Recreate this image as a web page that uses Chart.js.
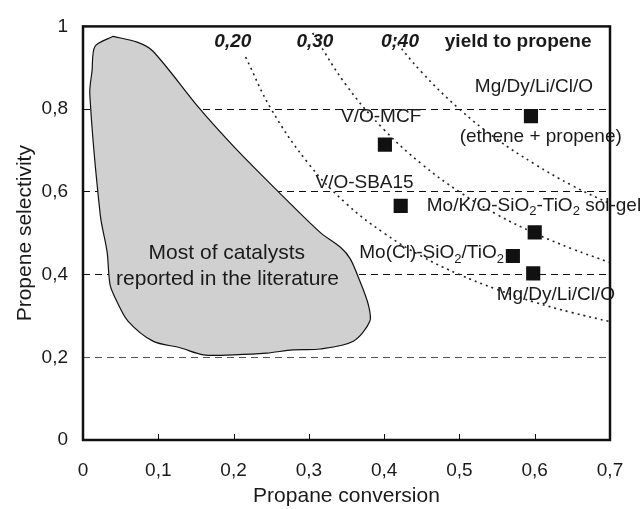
<!DOCTYPE html>
<html>
<head>
<meta charset="utf-8">
<script src="https://cdn.jsdelivr.net/npm/chart.js@4.4.0/dist/chart.umd.min.js"></script>
<style>
  html, body { margin: 0; padding: 0; background: #fff; }
</style>
</head>
<body>
<canvas id="chart" width="640" height="509"></canvas>
<script>
// catalysts (squares)
const catalystNames = ['Mg/Dy/Li/Cl/O (ethene + propene)', 'V/O-MCF', 'V/O-SBA15',
  'Mo/K/O-SiO2-TiO2 sol-gel', 'Mo(Cl)-SiO2/TiO2', 'Mg/Dy/Li/Cl/O'];
const catalystX = [0.595, 0.401, 0.422, 0.600, 0.571, 0.598];
const catalystY = [0.783, 0.714, 0.566, 0.502, 0.445, 0.403];

// outline of the grey region "most of catalysts"
const regionX = [0.040, 0.072, 0.093, 0.155, 0.200, 0.258, 0.315, 0.342, 0.355, 0.368, 0.379, 0.381,
  0.359, 0.315, 0.279, 0.244, 0.200, 0.160, 0.129, 0.093, 0.060, 0.045, 0.036, 0.032, 0.023,
  0.009, 0.012, 0.016, 0.040];
const regionY = [0.976, 0.962, 0.940, 0.801, 0.710, 0.603, 0.502, 0.466, 0.438, 0.383, 0.327, 0.287,
  0.239, 0.220, 0.218, 0.210, 0.206, 0.206, 0.223, 0.239, 0.287, 0.335, 0.375, 0.455, 0.543,
  0.837, 0.892, 0.952, 0.976];

// iso-yield curves
const yield20X = [0.216, 0.25, 0.30, 0.35, 0.40, 0.45, 0.50, 0.55, 0.60, 0.65, 0.70];
const yield20Y = [0.926, 0.80, 0.667, 0.571, 0.50, 0.444, 0.40, 0.364, 0.333, 0.308, 0.286];
const yield30X = [0.305, 0.35, 0.40, 0.45, 0.50, 0.55, 0.60, 0.65, 0.70];
const yield30Y = [0.984, 0.857, 0.75, 0.667, 0.60, 0.545, 0.50, 0.462, 0.429];
const yield40X = [0.408, 0.45, 0.50, 0.55, 0.60, 0.65, 0.70];
const yield40Y = [0.98, 0.889, 0.80, 0.727, 0.667, 0.615, 0.571];

// annotations: text ({n} = subscript), anchor in data units, style, size
const noteTexts = ['0,20', '0,30', '0;40', 'yield to propene', 'Mg/Dy/Li/Cl/O', '(ethene + propene)',
  'V/O-MCF', 'V/O-SBA15', 'Mo/K/O-SiO{2}-TiO{2} sol-gel', 'Mo(Cl)-SiO{2}/TiO{2}', 'Mg/Dy/Li/Cl/O',
  'Most of catalysts', 'reported in the literature'];
const noteX = [0.199, 0.308, 0.421, 0.578, 0.599, 0.608, 0.396, 0.374, 0.599, 0.463, 0.628, 0.191, 0.192];
const noteY = [0.962, 0.962, 0.962, 0.962, 0.854, 0.734, 0.782, 0.622, 0.567, 0.452, 0.352, 0.451, 0.388];
const noteStyle = ['bold italic', 'bold italic', 'bold italic', 'bold', '', '', '', '', '', '', '', '', ''];
const noteSize = [19, 19, 19, 19, 19, 19, 19, 19, 19, 19, 19, 21, 21];

const FONT = "'Liberation Sans', Arial, sans-serif";

function toPoints(xs, ys) {
  return xs.map((x, i) => ({ x: x, y: ys[i] }));
}

function fmt(v) {
  return Number.isInteger(v) ? String(v) : v.toFixed(1).replace('.', ',');
}

function drawRich(ctx, str, cx, cy, style, size) {
  const parts = str.split(/(\{\d\})/).filter(p => p !== '');
  const subSize = Math.round(size * 0.68);
  const segs = parts.map(p => {
    const sub = /^\{\d\}$/.test(p);
    const text = sub ? p.slice(1, -1) : p;
    const font = (style ? style + ' ' : '') + (sub ? subSize : size) + 'px ' + FONT;
    ctx.font = font;
    return { text: text, sub: sub, font: font, w: ctx.measureText(text).width };
  });
  const total = segs.reduce((s, g) => s + g.w, 0);
  let x = cx - total / 2;
  ctx.textAlign = 'left';
  ctx.textBaseline = 'middle';
  segs.forEach(g => {
    ctx.font = g.font;
    ctx.fillText(g.text, x, g.sub ? cy + size * 0.32 : cy);
    x += g.w;
  });
}

const framePlugin = {
  id: 'frame',
  afterDatasetsDraw(chart) {
    const ctx = chart.ctx;
    const a = chart.chartArea;
    const xs = chart.scales.x;
    const ys = chart.scales.y;
    ctx.save();
    // inward ticks on the x axis
    ctx.strokeStyle = '#111';
    ctx.lineWidth = 1;
    xs.ticks.forEach(t => {
      const px = Math.round(xs.getPixelForValue(t.value)) + 0.5;
      ctx.beginPath();
      ctx.moveTo(px, a.bottom);
      ctx.lineTo(px, a.bottom - 6);
      ctx.stroke();
    });
    // frame
    ctx.lineWidth = 2.5;
    ctx.strokeStyle = '#111';
    ctx.strokeRect(a.left, a.top, a.right - a.left, a.bottom - a.top);
    // annotations
    ctx.fillStyle = '#1a1a1a';
    noteTexts.forEach((t, i) => {
      const px = xs.getPixelForValue(noteX[i]);
      const py = ys.getPixelForValue(noteY[i]);
      drawRich(ctx, t, px, py, noteStyle[i], noteSize[i]);
    });
    ctx.restore();
  }
};

const ctx = document.getElementById('chart').getContext('2d');
const curveStyle = {
  type: 'line',
  borderColor: '#222',
  borderWidth: 1.6,
  borderDash: [2, 4],
  pointRadius: 0,
  tension: 0.4,
  fill: false
};

new Chart(ctx, {
  type: 'scatter',
  data: {
    datasets: [
      {
        label: 'catalysts',
        data: toPoints(catalystX, catalystY),
        pointStyle: 'rect',
        pointRadius: 10,
        backgroundColor: '#111',
        borderColor: '#111',
        borderWidth: 0,
        order: 0
      },
      Object.assign({ label: '0,20', data: toPoints(yield20X, yield20Y), order: 1 }, curveStyle),
      Object.assign({ label: '0,30', data: toPoints(yield30X, yield30Y), order: 1 }, curveStyle),
      Object.assign({ label: '0,40', data: toPoints(yield40X, yield40Y), order: 1 }, curveStyle),
      {
        type: 'line',
        label: 'literature',
        data: toPoints(regionX, regionY),
        borderColor: '#111',
        borderWidth: 1.2,
        backgroundColor: '#d0d0d0',
        pointRadius: 0,
        tension: 0.3,
        fill: 'shape',
        order: 2
      }
    ]
  },
  options: {
    responsive: false,
    animation: false,
    layout: { padding: { top: 22, right: 30, left: 0, bottom: 0 } },
    plugins: {
      legend: { display: false },
      tooltip: { enabled: false }
    },
    scales: {
      x: {
        type: 'linear',
        min: 0,
        max: 0.7,
        afterFit(scale) { scale.height = 69; },
        ticks: {
          stepSize: 0.1,
          padding: 11,
          color: '#1a1a1a',
          font: { family: FONT, size: 19 },
          callback: v => fmt(v)
        },
        grid: { display: false },
        border: { display: false },
        title: {
          display: true,
          text: 'Propane conversion',
          color: '#1a1a1a',
          font: { family: FONT, size: 21 },
          padding: { top: 0, bottom: 0 }
        }
      },
      y: {
        type: 'linear',
        min: 0,
        max: 1,
        afterFit(scale) { scale.width = 83; },
        ticks: {
          stepSize: 0.2,
          padding: 15,
          color: '#1a1a1a',
          font: { family: FONT, size: 19 },
          callback: v => fmt(v)
        },
        grid: {
          drawTicks: false,
          lineWidth: 1,
          color: c => {
            const v = c.tick ? c.tick.value : 0;
            if (v <= 0.001 || v >= 0.999) return 'rgba(0,0,0,0)';
            return v < 0.3 ? '#555' : '#111';
          }
        },
        border: { display: false, dash: [7, 5] },
        title: {
          display: true,
          text: 'Propene selectivity',
          color: '#1a1a1a',
          font: { family: FONT, size: 21 },
          padding: { top: 13, bottom: 0 }
        }
      }
    }
  },
  plugins: [framePlugin]
});
</script>
</body>
</html>
